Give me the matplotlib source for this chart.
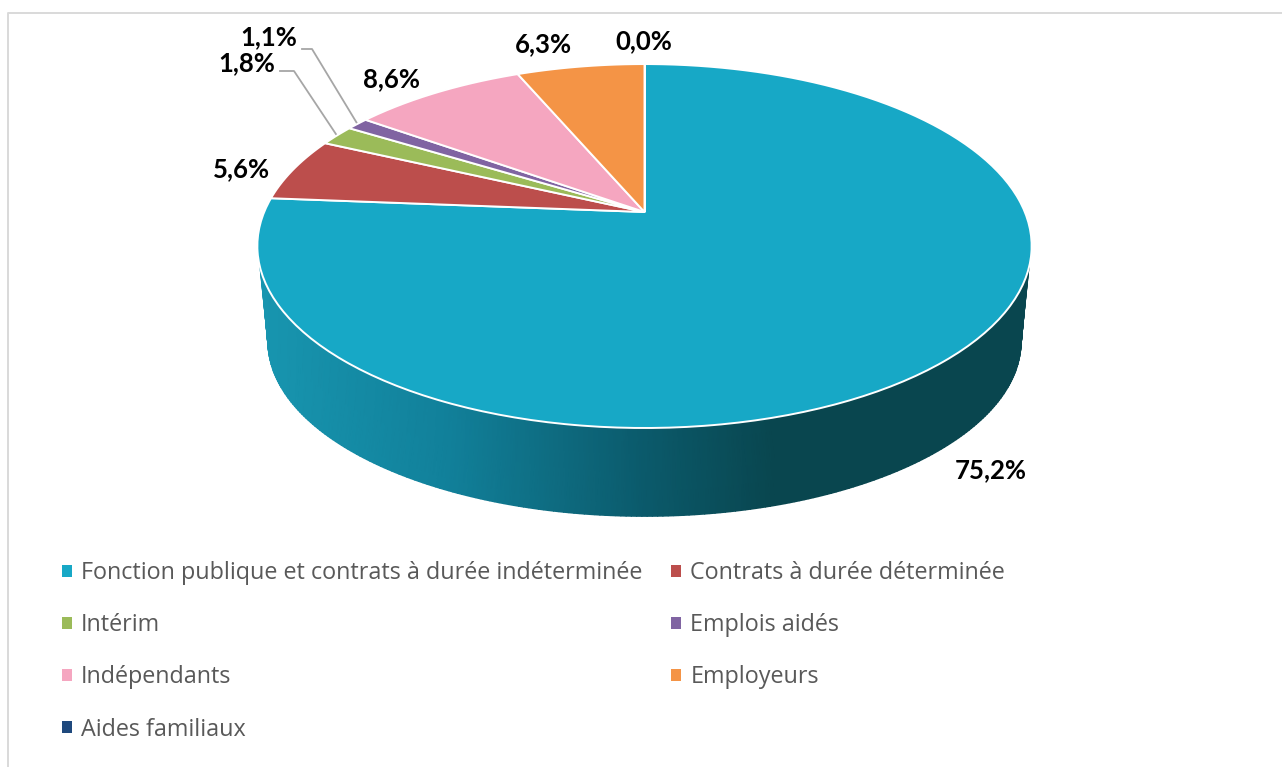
import numpy as np
import matplotlib
matplotlib.use("Agg")
import matplotlib.pyplot as plt
from matplotlib.colors import LinearSegmentedColormap
from matplotlib.patches import Patch
from matplotlib.path import Path
from matplotlib.transforms import Affine2D, Transform

categories = ["Fonction publique et contrats à durée indéterminée",
              "Contrats à durée déterminée", "Intérim", "Emplois aidés",
              "Indépendants", "Employeurs", "Aides familiaux"]
values = [75.2, 5.6, 1.8, 1.1, 8.6, 6.3, 0.0]
colors = ["#17A8C6", "#BC4E4C", "#9BBB59", "#8064A2", "#F5A6C0", "#F49446", "#1F497D"]
label_pos = [(991, 470), (241, 169), (247, 63), (269, 37), (391, 79), (543, 44), (644, 41)]

K = 0.187


class Persp(Transform):
    """Perspective view of the unit circle plane, output in image pixels."""
    input_dims = 2
    output_dims = 2

    def __init__(self, cx, cy, w, h):
        super().__init__()
        self.p = (cx, cy, w, h)

    def transform_non_affine(self, xy):
        xy = np.asarray(xy, float)
        cx, cy, w, h = self.p
        d = 1 + K * xy[:, 1]
        return np.column_stack([cx + w * xy[:, 0] / d, cy - h * xy[:, 1] / d])

    def transform_path_non_affine(self, path):
        polys = path.transformed(Affine2D().scale(800)).to_polygons(closed_only=True)
        if not polys:
            return Path(np.zeros((1, 2)))
        return Path(self.transform_non_affine(polys[0] / 800), closed=True)


top = Persp(644.5, 212, 380.3, 175.6)
bottom = Persp(644.5, 309, 370, 168.6)

fig = plt.figure(figsize=(12.82, 7.67), dpi=100)
ax = fig.add_axes([0, 0, 1, 1])
wedges, _ = ax.pie(values, colors=colors, startangle=90, counterclock=False,
                   wedgeprops=dict(edgecolor="white", linewidth=1.4))
ax.set_aspect("auto")
ax.set_xlim(0, 1282)
ax.set_ylim(767, 0)
ax.set_axis_off()
for w in wedges:
    w.set_transform(top + ax.transData)
    w.set_zorder(3)

# Side wall of the first slice (the only one facing the viewer)
n = 240
t_up = np.radians(np.linspace(180 + 17.2, 360 - 17.2, n))
t_lo = np.radians(np.linspace(180 + 10.9, 360 - 10.9, n))
up = top.transform_non_affine(np.column_stack([np.cos(t_up), np.sin(t_up)]))
lo = bottom.transform_non_affine(np.column_stack([np.cos(t_lo), np.sin(t_lo)]))
X = np.vstack([up[:, 0], lo[:, 0]])
Y = np.vstack([up[:, 1], lo[:, 1]])
x0, x1 = 255.0, 1033.0
stops = [(0.0, "#1896B0"), (0.25, "#11809A"), ((645 - x0) / (x1 - x0), "#0B5A6B"),
         ((775 - x0) / (x1 - x0), "#09464F"), (1.0, "#09464F")]
cmap = LinearSegmentedColormap.from_list("side", stops)
ax.pcolormesh(X, Y, (X - x0) / (x1 - x0), cmap=cmap, vmin=0, vmax=1,
              shading="gouraud", zorder=1)

# Data labels
total = sum(values)
for v, (x, y) in zip(values, label_pos):
    ax.text(x, y, f"{v:.1f}%".replace(".", ","), ha="center", va="center",
            fontsize=18.5, fontweight="bold", family="Lato", color="black", zorder=5)

# Leader lines of the two thin slices
ends = {2: (280, 71, 294), 3: (302, 49, 312)}
cum = np.cumsum(values) / total * 2 * np.pi
for i, (xs, ys, xe) in ends.items():
    mid = np.pi / 2 - (cum[i] + cum[i - 1]) / 2
    rim = top.transform_non_affine(np.array([[np.cos(mid), np.sin(mid)]]))[0]
    ax.plot([xs, xe, rim[0]], [ys, ys, rim[1]], color="#A6A6A6", lw=1.3, zorder=2)

# Outer border of the chart area
ax.plot([8, 8, 1282], [767, 13, 13], color="#D9D9D9", lw=1.4, zorder=0)

# Legend (columns are filled first, hence the order)
order = [0, 2, 4, 6, 1, 3, 5]
handles = [Patch(facecolor=colors[i], edgecolor="none", label=categories[i]) for i in order]
fs = 16.8
fspx = fs * 100 / 72
ax.legend(handles=handles, ncol=2, frameon=False, loc="upper left",
          bbox_to_anchor=(62 / 1282, 1 - 561 / 767), borderaxespad=0, borderpad=0,
          prop=dict(family="Open Sans", size=fs), labelcolor="#595959",
          handlelength=10 / fspx, handleheight=10 / fspx, handletextpad=9 / fspx,
          columnspacing=29 / fspx, labelspacing=1.21)

fig.savefig("out.png", dpi=100, facecolor="white")
